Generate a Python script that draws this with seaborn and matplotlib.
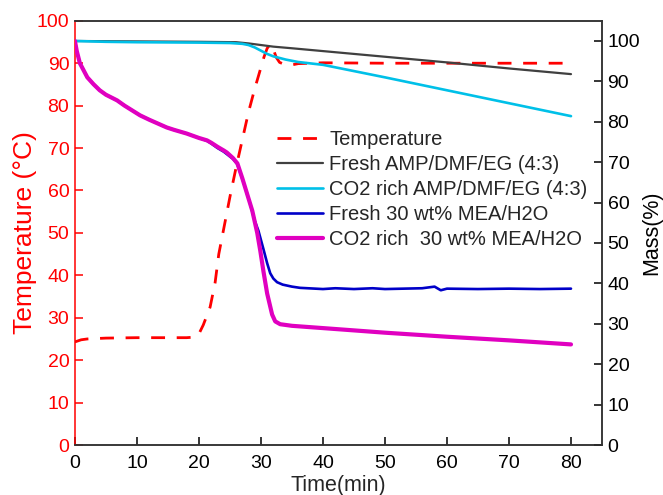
import matplotlib
matplotlib.use("Agg")
import matplotlib.pyplot as plt
import seaborn as sns

# Temperature program (left axis, °C)
temp_time = [0, 1, 2, 5, 10, 15, 18, 19, 19.9, 20.7, 21.8, 22.6, 23.2, 24, 25, 26, 27, 28,
             29, 30, 30.5, 31, 31.5, 32, 32.5, 33, 34, 35, 36, 40, 50, 60, 70, 80]
temp_value = [24.3, 24.8, 25.0, 25.2, 25.3, 25.3, 25.3, 25.4, 25.9, 28.3, 32.5, 38.2, 45.0,
              51.0, 58.5, 65.5, 72.0, 78.5, 84.0, 89.0, 91.5, 93.5, 94.5, 93.2, 91.3, 90.2,
              89.6, 89.6, 89.9, 90.1, 90.0, 90.0, 90.0, 90.0]

# Fresh AMP/DMF/EG (4:3) mass loss (right axis, %)
amp_fresh_time = [0, 10, 20, 26, 28, 30, 32, 35, 40, 50, 60, 70, 80]
amp_fresh_mass = [100, 99.9, 99.8, 99.7, 99.4, 99.0, 98.6, 98.2, 97.5, 96.1, 94.7, 93.2, 91.8]

# CO2 rich AMP/DMF/EG (4:3)
amp_rich_time = [0, 5, 10, 20, 25, 27, 28, 29, 30, 31, 32, 34, 36, 40, 50, 60, 70, 80]
amp_rich_mass = [100, 99.8, 99.7, 99.6, 99.5, 99.3, 99.0, 98.4, 97.6, 96.8, 96.2, 95.4, 94.8,
                 94.1, 91.0, 87.8, 84.6, 81.4]

# CO2 rich 30 wt% MEA/H2O
mea_rich_time = [0, 0.3, 0.8, 2, 3, 4, 5, 6.8, 8, 10.5, 12, 14.8, 16, 18, 20, 21.3, 22, 23,
                 24, 24.5, 25.5, 26.2, 27.0, 27.8, 28.6, 29.4, 29.9, 30.4, 31.0, 31.8, 32.3,
                 33.1, 35, 41.2, 50, 60, 70, 80]
mea_rich_mass = [100, 97.5, 94.5, 91.0, 89.3, 87.8, 86.7, 85.3, 84.0, 81.6, 80.5, 78.6, 78.0,
                 77.1, 76.0, 75.4, 74.8, 73.8, 72.9, 72.4, 71.0, 69.7, 66.0, 62.0, 58.0, 52.5,
                 48.0, 43.0, 37.5, 32.3, 30.6, 29.9, 29.5, 28.8, 27.8, 26.8, 25.9, 24.9]

# Fresh 30 wt% MEA/H2O
mea_fresh_time = [0, 0.3, 0.8, 2, 3, 4, 5, 6.8, 8, 10.5, 12, 14.8, 16, 18, 20, 21.3, 22, 23,
                  24, 24.5, 25.5, 26.2, 27.2, 28.2, 29.0, 29.6, 30.4, 31.0, 31.5, 32.0, 32.6,
                  33.5, 35, 36.3, 40, 42, 45, 48, 50, 53, 56, 58, 59, 60, 65, 70, 75, 80]
mea_fresh_mass = [100, 97.5, 94.5, 91.0, 89.3, 87.8, 86.7, 85.3, 84.0, 81.6, 80.5, 78.6, 78.0,
                  77.1, 76.0, 75.3, 74.6, 73.5, 72.6, 72.0, 70.8, 69.5, 65.0, 60.0, 55.5, 53.0,
                  48.5, 45.0, 42.5, 41.2, 40.3, 39.7, 39.2, 38.9, 38.6, 38.8, 38.6, 38.8, 38.6,
                  38.7, 38.8, 39.2, 38.3, 38.7, 38.6, 38.7, 38.6, 38.7]

x_ticks = [0, 10, 20, 30, 40, 50, 60, 70, 80]
temp_ticks = [0, 10, 20, 30, 40, 50, 60, 70, 80, 90, 100]
mass_ticks = [0, 10, 20, 30, 40, 50, 60, 70, 80, 90, 100]

sns.set_theme(style="ticks")
plt.rcParams["font.family"] = ["Liberation Sans", "DejaVu Sans"]

TICK_FS = 14
LABEL_FS = 15.5
TEMP_LABEL_FS = 19
LEGEND_FS = 14.5
RED = "#ff0000"

fig = plt.figure(figsize=(6.63, 4.95), dpi=100)
ax = fig.add_axes([0.113, 0.101, 0.795, 0.857])
ax2 = ax.twinx()

sns.lineplot(x=temp_time, y=temp_value, ax=ax, color=RED, linewidth=2.0,
             label="Temperature", legend=False)
ax.lines[-1].set_dashes((5, 4.2))

series = [
    (amp_fresh_time, amp_fresh_mass, "#404040", 1.6, "Fresh AMP/DMF/EG (4:3)"),
    (amp_rich_time, amp_rich_mass, "#00c0e8", 1.9, "CO2 rich AMP/DMF/EG (4:3)"),
    (mea_fresh_time, mea_fresh_mass, "#0000c8", 1.9, "Fresh 30 wt% MEA/H2O"),
    (mea_rich_time, mea_rich_mass, "#e000c0", 3.0, "CO2 rich  30 wt% MEA/H2O"),
]
for t, m, c, lw, name in series:
    sns.lineplot(x=t, y=m, ax=ax2, color=c, linewidth=lw, label=name, legend=False)

ax.set_xlim(0, 85)
ax.set_ylim(0, 100)
ax2.set_ylim(0, 105)
ax.set_xticks(x_ticks)
ax.set_yticks(temp_ticks)
ax2.set_yticks(mass_ticks)

ax.set_xlabel("Time(min)", fontsize=LABEL_FS, labelpad=2)
ax.set_ylabel("Temperature (°C)", color=RED, fontsize=TEMP_LABEL_FS, labelpad=0)
ax2.set_ylabel("Mass(%)", color="black", fontsize=LABEL_FS, labelpad=1)

for a in (ax, ax2):
    for s in a.spines.values():
        s.set_linewidth(1.1)
        s.set_color("#333333")
    a.grid(False)
ax.spines["left"].set_color(RED)
ax2.spines["left"].set_visible(False)
ax.tick_params(axis="x", direction="in", length=6, width=1.1, colors="black",
               labelsize=TICK_FS, pad=7)
ax.tick_params(axis="y", direction="in", length=6, width=1.1, colors=RED,
               labelsize=TICK_FS, pad=4)
ax2.tick_params(axis="y", direction="in", length=6, width=1.1, colors="black",
                labelsize=TICK_FS, pad=4)

handles = ax.get_lines()[:1] + ax2.get_lines()
labels = [h.get_label() for h in handles]
fig.legend(handles, labels, loc="upper left", bbox_to_anchor=(277 / 663, 1 - 130 / 495),
           frameon=False, fontsize=LEGEND_FS, handlelength=2.3, handletextpad=0.3,
           labelspacing=0.3, borderpad=0, borderaxespad=0)

fig.savefig("out.png", dpi=100)
